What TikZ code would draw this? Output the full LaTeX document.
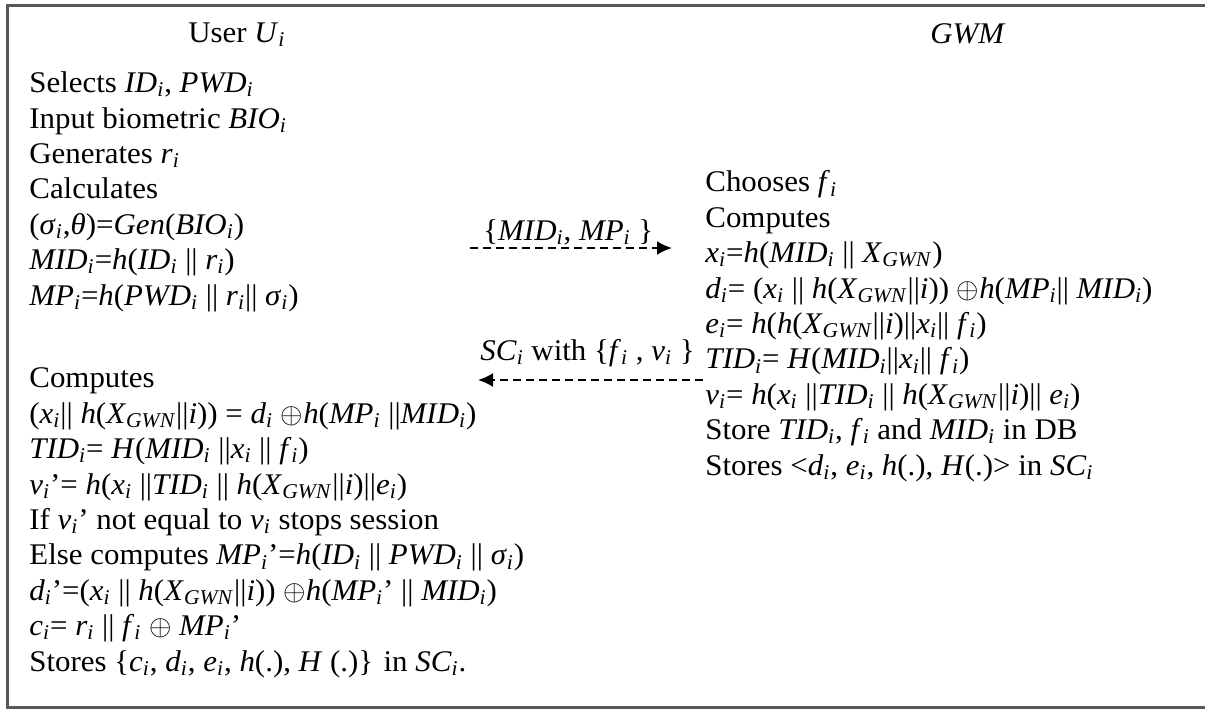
\documentclass[tikz,border=0pt]{standalone}
\usepackage{fontspec}
\setmainfont{Liberation Serif}[FakeStretch=1.03]
\usetikzlibrary{arrows.meta}
\newcommand{\vsub}[2]{\textit{#1}\textsubscript{\textit{#2}}}
\newcommand{\xor}{\ensuremath{\oplus}}
\newcommand{\fs}{\fontsize{15}{17.7}\selectfont}
\tikzset{
  txt/.style={anchor=base west,inner sep=0pt,align=left,font=\fs},
  ttl/.style={anchor=base west,inner sep=0pt,font=\fs},
  msg/.style={line width=1pt,dash pattern=on 4pt off 2.5pt,-{Latex[length=7.5pt,width=7pt]}},
  frame/.style={line width=1.5pt,draw=black!65}
}
\begin{document}
\begin{tikzpicture}[x=0.5pt,y=0.5pt]
  \useasboundingbox (0,0) rectangle (1205,-709);
  \draw[frame] (1205,-5) -- (7.5,-5) -- (7.5,-707) -- (1205,-707);
  \draw
    (188,-42) node[ttl] (user) {User \vsub{U}{i}}
    (930,-43) node[ttl] (gwm) {\textit{GWM}};
  \draw (29,-305) node[txt] (userreg) {Selects \vsub{ID}{i}, \vsub{PWD}{i}\\
    Input biometric \vsub{BIO}{i}\\
    Generates \vsub{r}{i}\\
    Calculates\\
    (\vsub{σ}{i},\textit{θ})=\textit{Gen}(\vsub{BIO}{i})\\
    \vsub{MID}{i}=\textit{h}(\vsub{ID}{i} || \vsub{r}{i})\\
    \vsub{MP}{i}=\textit{h}(\vsub{PWD}{i} || \vsub{r}{i}|| \vsub{σ}{i})};
  \draw (705,-475) node[txt] (gwmcomp) {Chooses \vsub{f}{i}\\
    Computes\\
    \vsub{x}{i}=\textit{h}(\vsub{MID}{i} || \vsub{X}{GWN})\\
    \vsub{d}{i}= (\vsub{x}{i} || \textit{h}(\vsub{X}{GWN}||\textit{i})) \xor\textit{h}(\vsub{MP}{i}|| \vsub{MID}{i})\\
    \vsub{e}{i}= \textit{h}(\textit{h}(\vsub{X}{GWN}||\textit{i})||\vsub{x}{i}|| \vsub{f}{i})\\
    \vsub{TID}{i}= \textit{H}(\vsub{MID}{i}||\vsub{x}{i}|| \vsub{f}{i})\\
    \vsub{v}{i}= \textit{h}(\vsub{x}{i} ||\vsub{TID}{i} || \textit{h}(\vsub{X}{GWN}||\textit{i})|| \vsub{e}{i})\\
    Store \vsub{TID}{i}, \vsub{f}{i} and \vsub{MID}{i} in DB\\
    Stores <\vsub{d}{i}, \vsub{e}{i}, \textit{h}(.), \textit{H}(.)> in \vsub{SC}{i}};
  \draw (29,-671) node[txt] (usercheck) {Computes\\
    (\vsub{x}{i}|| \textit{h}(\vsub{X}{GWN}||\textit{i})) = \vsub{d}{i} \xor\textit{h}(\vsub{MP}{i} ||\vsub{MID}{i})\\
    \vsub{TID}{i}= \textit{H}(\vsub{MID}{i} ||\vsub{x}{i} || \vsub{f}{i})\\
    \vsub{v}{i}’= \textit{h}(\vsub{x}{i} ||\vsub{TID}{i} || \textit{h}(\vsub{X}{GWN}||\textit{i})||\vsub{e}{i})\\
    If \vsub{v}{i}’ not equal to \vsub{v}{i} stops session\\
    Else computes \vsub{MP}{i}’=\textit{h}(\vsub{ID}{i} || \vsub{PWD}{i} || \vsub{σ}{i})\\
    \vsub{d}{i}’=(\vsub{x}{i} || \textit{h}(\vsub{X}{GWN}||\textit{i})) \xor\textit{h}(\vsub{MP}{i}’ || \vsub{MID}{i})\\
    \vsub{c}{i}= \vsub{r}{i} || \vsub{f}{i} \xor{} \vsub{MP}{i}’\\
    Stores \{\vsub{c}{i}, \vsub{d}{i}, \vsub{e}{i}, \textit{h}(.), \textit{H} (.)\} in \vsub{SC}{i}.};
  \draw
    (483,-240) node[ttl] (m1) {\{\vsub{MID}{i}, \vsub{MP}{i} \}}
    (480,-360) node[ttl] (m2) {\vsub{SC}{i} with \{\vsub{f}{i} , \vsub{v}{i} \}};
  \coordinate (m1a) at (470,-248);
  \coordinate (m1b) at (672,-248);
  \coordinate (m2a) at (703,-380);
  \coordinate (m2b) at (478,-380);
  \begin{scope}[msg]
    \draw (m1a) -- (m1b);
    \draw (m2a) -- (m2b);
  \end{scope}
\end{tikzpicture}
\end{document}
